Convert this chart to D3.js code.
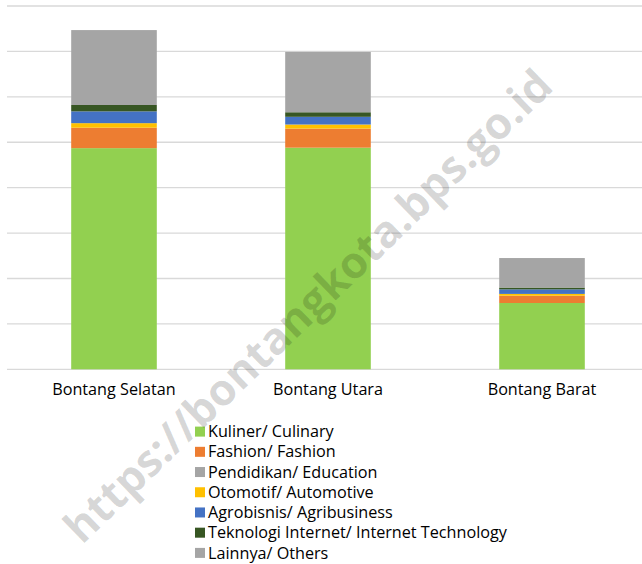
<!DOCTYPE html>
<html>
<head>
<meta charset="utf-8">
<script src="https://cdn.jsdelivr.net/npm/d3@7"></script>
<style>
html,body{margin:0;padding:0;background:#fff;}
svg{display:block;font-family:"Open Sans","Noto Sans",sans-serif;}
</style>
</head>
<body>
<svg id="chart" width="642" height="564"></svg>
<script>
const categories = ["Bontang Selatan", "Bontang Utara", "Bontang Barat"];
const seriesNames = ["Kuliner/ Culinary", "Fashion/ Fashion", "Pendidikan/ Education", "Otomotif/ Automotive", "Agrobisnis/ Agribusiness", "Teknologi Internet/ Internet Technology", "Lainnya/ Others"];
const kuliner    = [487, 488, 146];
const fashion    = [45, 42, 16];
const pendidikan = [0, 0, 0];
const otomotif   = [10, 9, 4];
const agrobisnis = [26, 17, 10];
const teknologi  = [14, 10, 4];
const lainnya    = [165, 133, 65];
const colors = ["#92d050", "#ed7d31", "#a5a5a5", "#ffc000", "#4472c4", "#375623", "#a5a5a5"];
const yTicks = [0, 100, 200, 300, 400, 500, 600, 700, 800];

const seriesValues = [kuliner, fashion, pendidikan, otomotif, agrobisnis, teknologi, lainnya];
const rows = categories.map((c, i) => {
  const r = {cat: c};
  seriesNames.forEach((s, j) => r[s] = seriesValues[j][i]);
  return r;
});

const svg = d3.select("#chart");
const x = d3.scaleBand().domain(categories).range([7, 649]).paddingInner(0.6).paddingOuter(0.3);
const y = d3.scaleLinear().domain([0, 800]).range([369.3, 6]);

// gridlines
svg.append("g").selectAll("line").data(yTicks).join("line")
  .attr("x1", 7).attr("x2", 642)
  .attr("y1", d => y(d)).attr("y2", d => y(d))
  .attr("stroke", "#d9d9d9").attr("stroke-width", 1.3);

const stack = d3.stack().keys(seriesNames);
const stacked = stack(rows);

svg.append("g").selectAll("g").data(stacked).join("g")
  .attr("fill", (d, i) => colors[i])
  .selectAll("rect").data(d => d).join("rect")
  .attr("x", d => x(d.data.cat))
  .attr("width", x.bandwidth())
  .attr("y", d => y(d[1]))
  .attr("height", d => Math.max(0, y(d[0]) - y(d[1])));

// x axis labels
const xAxis = d3.axisBottom(x).tickSize(0).tickPadding(0);
const gx = svg.append("g").attr("transform", "translate(0,383.5)").call(xAxis);
gx.select(".domain").remove();
gx.selectAll("text").attr("font-size", 16.2).attr("fill", "#000")
  .attr("font-family", "'Open Sans','Noto Sans',sans-serif").attr("dy", "0.71em");

// legend
const legend = svg.append("g").attr("transform", "translate(195,0)");
const legendY = d3.scaleBand().domain(seriesNames).range([421.5, 563]);
const items = legend.selectAll("g").data(seriesNames).join("g")
  .attr("transform", d => `translate(0,${legendY(d) + legendY.bandwidth() / 2})`);
items.append("rect").attr("x", 0).attr("y", -5).attr("width", 10).attr("height", 10)
  .attr("fill", (d, i) => colors[i]);
items.append("text").attr("x", 13).attr("dy", "0.35em").attr("font-size", 16.2)
  .attr("fill", "#000").text(d => d);

// watermark
svg.append("text")
  .attr("transform", "translate(308,306) rotate(-44)")
  .attr("text-anchor", "middle").attr("dy", "0.35em")
  .attr("font-size", 44).attr("font-weight", "bold")
  .attr("font-family", "'Open Sans','Noto Sans',sans-serif")
  .attr("fill", "#000").attr("fill-opacity", 0.16)
  .text("https://bontangkota.bps.go.id");
</script>
</body>
</html>
